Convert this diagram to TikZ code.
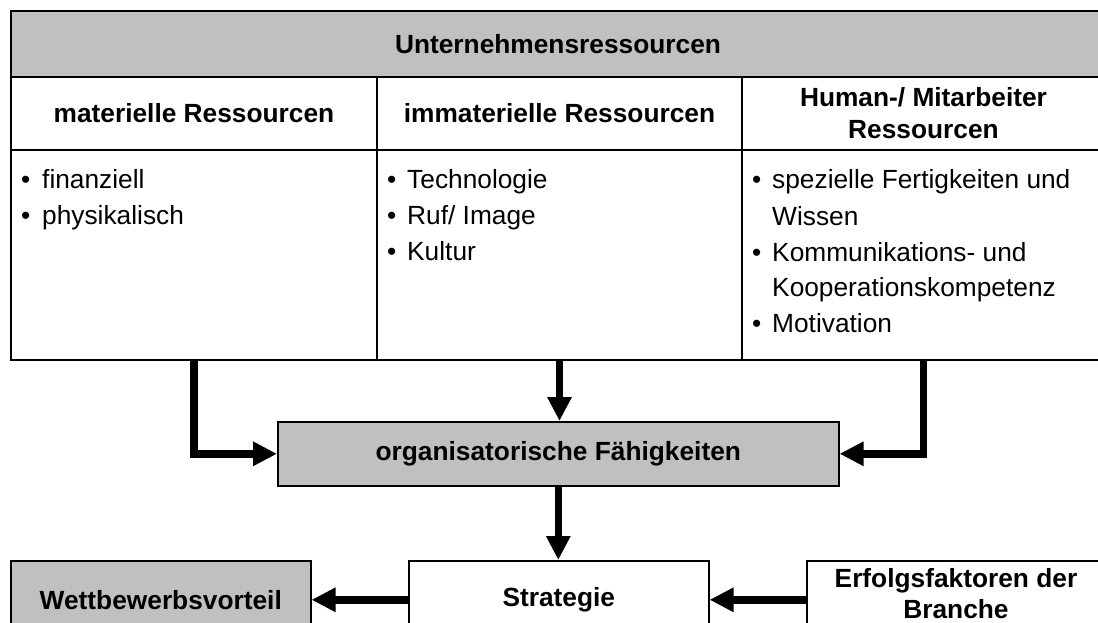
\documentclass[tikz,border=0pt]{standalone}
\usepackage{fontspec}
\setmainfont{Liberation Sans}
\usetikzlibrary{arrows.meta}
\definecolor{panelgray}{HTML}{C0C0C0}
\tikzset{
  txt/.style={font=\fontsize{26.3}{32}\selectfont},
  cell/.style={draw, line width=2pt, inner sep=0pt, anchor=north west,
               align=center, font=\bfseries\fontsize{26.3}{32}\selectfont},
  box/.style={draw, line width=1.6pt, inner sep=0pt, anchor=north west,
              align=center, minimum width=300pt, minimum height=78pt,
              font=\bfseries\fontsize{26.3}{32}\selectfont},
  boxline/.style={anchor=base, inner sep=0pt, font=\bfseries\fontsize{26.3}{32}\selectfont},
  item/.style={anchor=base west, inner sep=0pt, txt},
  flow/.style={line width=7.5pt, -{Triangle[length=24pt,width=23pt]}},
}
\begin{document}
\begin{tikzpicture}[x=1pt,y=-1pt]
\useasboundingbox (0,0) rectangle (1098,623);
\clip (0,0) rectangle (1098,623);

% resource table
\node[cell, fill=panelgray, minimum width=1094pt, minimum height=66pt] (head) at (10,10) {Unternehmensressourcen};
\node[cell, minimum width=366pt, minimum height=73pt] (mat) at (10,76) {materielle Ressourcen};
\node[cell, minimum width=365pt, minimum height=73pt] (imm) at (376,76) {immaterielle Ressourcen};
\node[cell, minimum width=363pt, minimum height=73pt] (hum) at (741,76) {Human-/ Mitarbeiter\\Ressourcen};
\node[cell, minimum width=366pt, minimum height=210pt] (matbody) at (10,149) {};
\node[cell, minimum width=365pt, minimum height=210pt] (immbody) at (376,149) {};
\node[cell, minimum width=363pt, minimum height=210pt] (humbody) at (741,149) {};

% bullet items
\node[item] (b11) at (21,188) {•};   \node[item] (t11) at (42,188) {finanziell};
\node[item] (b12) at (21,224) {•};   \node[item] (t12) at (42,224) {physikalisch};

\node[item] (b21) at (387,189) {•};  \node[item] (t21) at (407,189) {Technologie};
\node[item] (b22) at (387,224) {•};  \node[item] (t22) at (407,224) {Ruf/ Image};
\node[item] (b23) at (387,260) {•};  \node[item] (t23) at (407,260) {Kultur};

\node[item] (b31) at (752,189) {•};  \node[item] (t31) at (772,189) {spezielle Fertigkeiten und};
\node[item] (t32) at (772,225) {Wissen};
\node[item] (b33) at (752,261) {•};  \node[item] (t33) at (772,261) {Kommunikations- und};
\node[item] (t34) at (772,296) {Kooperationskompetenz};
\node[item] (b35) at (752,332) {•};  \node[item] (t35) at (772,332) {Motivation};

% process boxes
\node[box, fill=panelgray, minimum width=561pt, minimum height=64pt] (org) at (277,421) {organisatorische Fähigkeiten};
\node[box, fill=panelgray] (wett) at (10,560) {Wettbewerbsvorteil};
\node[box] (strat) at (408,560) {Strategie};
\node[box] (erf) at (806,560) {};
\node[boxline] (erf1) at (956,587) {Erfolgsfaktoren der};
\node[boxline] (erf2) at (956,618) {Branche};

% connectors
\draw[flow] (matbody.south) |- (org.west);
\draw[flow] (humbody.south) |- (org.east);
\draw[flow] (immbody.south) -- (immbody.south |- org.north);
\draw[flow] (org.south) -- (org.south |- strat.north);
\draw[flow] (strat.west) -- (wett.east);
\draw[flow] (erf.west) -- (strat.east);
\end{tikzpicture}
\end{document}
